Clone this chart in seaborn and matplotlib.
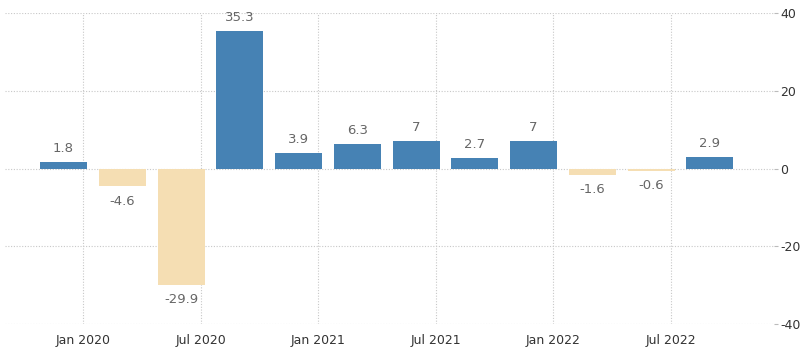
import pandas as pd
import numpy as np
import seaborn as sns
import matplotlib.pyplot as plt

# dados: variação trimestral (fim de trimestre)
trimestres = ['2019-12', '2020-03', '2020-06', '2020-09', '2020-12', '2021-03',
              '2021-06', '2021-09', '2021-12', '2022-03', '2022-06', '2022-09']
valores = [1.8, -4.6, -29.9, 35.3, 3.9, 6.3, 7, 2.7, 7, -1.6, -0.6, 2.9]
rotulos = ['1.8', '-4.6', '-29.9', '35.3', '3.9', '6.3', '7', '2.7', '7', '-1.6', '-0.6', '2.9']
ticks_x = ['2020-01', '2020-07', '2021-01', '2021-07', '2022-01', '2022-07']
nomes_x = ['Jan 2020', 'Jul 2020', 'Jan 2021', 'Jul 2021', 'Jan 2022', 'Jul 2022']
ticks_y = [40, 20, 0, -20, -40]

# meses desde jan/2020 para posicionar as barras
def meses(s):
    d = pd.Period(s, freq='M')
    return (d.year - 2020) * 12 + (d.month - 1)

df = pd.DataFrame({
    'mes': [meses(t) for t in trimestres],
    'valor': valores,
    'sinal': ['pos' if v >= 0 else 'neg' for v in valores],
})

sns.set_style('white')
plt.rcParams['font.family'] = ['DejaVu Sans']

fig = plt.figure(figsize=(8, 3.52), dpi=100)
ax = fig.add_axes([0.006, 0.0795, 0.962, 0.8835])

sns.barplot(data=df, x='mes', y='valor', hue='sinal', native_scale=True, dodge=False,
            palette={'pos': '#4682b4', 'neg': '#f5deb3'}, saturation=1, width=0.8,
            legend=False, ax=ax, edgecolor='none')

# rótulos dos valores
for m, v, r in zip(df['mes'], df['valor'], rotulos):
    if v >= 0:
        ax.annotate(r, (m, v), xytext=(0, 5), textcoords='offset points',
                    ha='center', va='bottom', fontsize=9.5, color='#666666')
    else:
        ax.annotate(r, (m, v), xytext=(0, -6), textcoords='offset points',
                    ha='center', va='top', fontsize=9.5, color='#666666')

ax.set_xlim(-4, 35.3)
ax.set_ylim(-40, 40)
ax.set_xticks([meses(t) for t in ticks_x])
ax.set_xticklabels(nomes_x, fontsize=9, color='#333333')
ax.set_yticks(ticks_y)
ax.set_yticklabels([str(t) for t in ticks_y], fontsize=9, color='#333333')
ax.yaxis.tick_right()
ax.tick_params(axis='y', length=3, color='#bbbbbb', pad=1)
ax.tick_params(axis='x', length=4, color='#bbbbbb', pad=3)
ax.set_xlabel('')
ax.set_ylabel('')
ax.grid(True, linestyle=(0, (1, 1.5)), color='#c8c8c8', linewidth=0.8)
ax.set_axisbelow(True)
for s in ax.spines.values():
    s.set_visible(False)

fig.savefig('out.png', dpi=100)
